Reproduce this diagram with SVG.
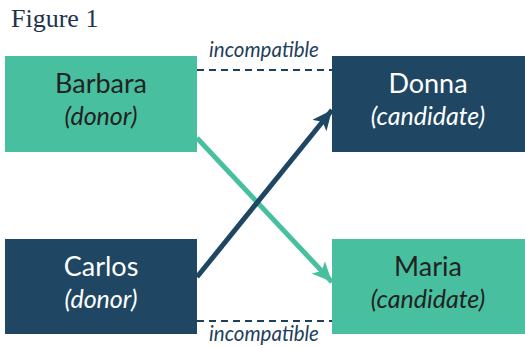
<svg xmlns="http://www.w3.org/2000/svg" width="525" height="348" viewBox="0 0 525 348">
<style>
.green{fill:#48C0A0}
.dark{fill:#1F4662}
.name{font-family:Lato,"Open Sans",sans-serif;font-size:27px;text-anchor:middle}
.role{font-family:Lato,"Open Sans",sans-serif;font-size:25px;font-style:italic;text-anchor:middle}
.lt{fill:#222}
.wt{fill:#fff}
.inc{font-family:Lato,"Open Sans",sans-serif;font-size:20.5px;font-style:italic;fill:#1F3F5A;text-anchor:middle}
.dash{stroke:#1F3F5A;stroke-width:2;stroke-dasharray:7,5;fill:none}
</style>
<defs>
<marker id="ah-d" markerUnits="userSpaceOnUse" markerWidth="24" markerHeight="20" refX="20" refY="9" orient="auto">
<path d="M0,0 L20,9 L0,18 L5,9 Z" fill="#1F4662"/>
</marker>
<marker id="ah-g" markerUnits="userSpaceOnUse" markerWidth="24" markerHeight="20" refX="20" refY="9" orient="auto">
<path d="M0,0 L20,9 L0,18 L5,9 Z" fill="#48C0A0"/>
</marker>
</defs>
<text x="11" y="27" font-family="Liberation Serif,serif" font-size="26" fill="#1F3350">Figure 1</text>
<g id="connectors">
<line class="dash" x1="197" y1="70" x2="332" y2="70"/>
<line class="dash" x1="197" y1="321" x2="332" y2="321"/>
<text class="inc" x="264" y="57">incompatible</text>
<text class="inc" x="264" y="341">incompatible</text>
<line x1="197" y1="138" x2="332" y2="282" stroke="#48C0A0" stroke-width="5" marker-end="url(#ah-g)"/>
<line x1="197" y1="277" x2="332" y2="110" stroke="#1F4662" stroke-width="5" marker-end="url(#ah-d)"/>
</g>
<g id="barbara">
<rect class="green" x="5" y="56" width="192" height="96"/>
<text class="name lt" x="101" y="93">Barbara</text>
<text class="role lt" x="101" y="125">(donor)</text>
</g>
<g id="donna">
<rect class="dark" x="332" y="56" width="193" height="96"/>
<text class="name wt" x="428" y="93">Donna</text>
<text class="role wt" x="428" y="125">(candidate)</text>
</g>
<g id="carlos">
<rect class="dark" x="5" y="239" width="192" height="95"/>
<text class="name wt" x="101" y="276">Carlos</text>
<text class="role wt" x="101" y="308">(donor)</text>
</g>
<g id="maria">
<rect class="green" x="332" y="239" width="193" height="95"/>
<text class="name lt" x="428" y="276">Maria</text>
<text class="role lt" x="428" y="308">(candidate)</text>
</g>
</svg>
